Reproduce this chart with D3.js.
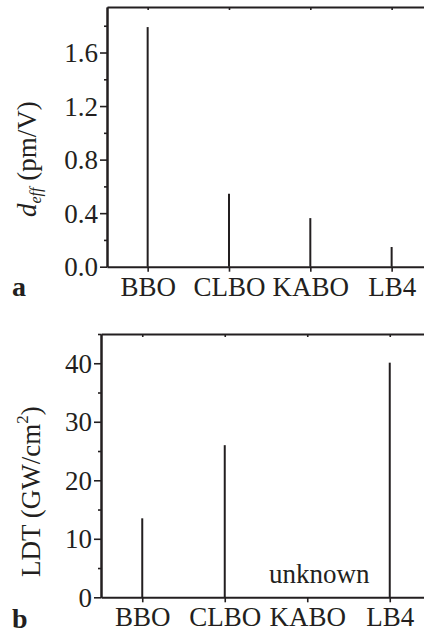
<!DOCTYPE html>
<html>
<head>
<meta charset="utf-8">
<script src="https://cdn.jsdelivr.net/npm/d3@7"></script>
<style>
  body { margin: 0; background: #fff; }
  svg { display: block; }
  text { font-family: "Liberation Serif", "Times New Roman", serif; fill: #231f20; }
</style>
</head>
<body>
<div id="chart"></div>
<script>
// crystals shown in both panels
const crystals = ['BBO', 'CLBO', 'KABO', 'LB4']

// panel a: effective nonlinear coefficient, pm/V
const deffValues = [1.79, 0.545, 0.363, 0.147]
const deffTicks = [0.0, 0.4, 0.8, 1.2, 1.6]
const deffMinor = [0.2, 0.6, 1.0, 1.4, 1.8]

// panel b: laser damage threshold, GW/cm2 (KABO unknown)
const ldtValues = [13.5, 26.0, null, 40.1]
const ldtTicks = [0, 10, 20, 30, 40]
const ldtMinor = [5, 15, 25, 35, 45]

const W = 424, H = 636
const ink = '#231f20'
const fontSize = '27px'

const svg = d3.select('#chart').append('svg')
  .attr('width', W)
  .attr('height', H)

/**
 * Draw one stick panel
 */
function drawPanel(opts) {
  const { left, right, top, bottom, domain, values, ticks, minor, fmt } = opts

  const x = d3.scalePoint().domain(crystals).range([left, right]).padding(0.5)
  const y = d3.scaleLinear().domain(domain).range([bottom, top])

  const g = svg.append('g')

  // sticks
  g.selectAll('.stick')
    .data(crystals.map((c, i) => ({ c, v: values[i] })).filter(d => d.v != null))
    .join('line')
    .attr('class', 'stick')
    .attr('x1', d => x(d.c))
    .attr('x2', d => x(d.c))
    .attr('y1', y(0))
    .attr('y2', d => y(d.v))
    .attr('stroke', ink)
    .attr('stroke-width', 2)

  // left axis, major + minor ticks
  const yAxis = g.append('g')
    .attr('transform', `translate(${left},0)`)
    .call(d3.axisLeft(y).tickValues(ticks).tickFormat(fmt)
      .tickSize(7).tickSizeOuter(0).tickPadding(2))
  yAxis.selectAll('text').style('font-size', fontSize).attr('dy', '0.34em')

  g.append('g')
    .attr('transform', `translate(${left},0)`)
    .call(d3.axisLeft(y).tickValues(minor).tickFormat('').tickSize(3).tickSizeOuter(0))

  // bottom axis, outward ticks
  const xAxis = g.append('g')
    .attr('transform', `translate(0,${bottom})`)
    .call(d3.axisBottom(x).tickSize(5).tickSizeOuter(0).tickPadding(5))
  xAxis.selectAll('text').style('font-size', fontSize).attr('dy', '0.71em')

  // top axis, inward ticks, no labels
  g.append('g')
    .attr('transform', `translate(0,${top})`)
    .call(d3.axisBottom(x).tickSize(3).tickSizeOuter(0).tickFormat(''))

  g.selectAll('.domain').attr('stroke', ink).attr('stroke-width', 2)
  g.selectAll('.tick line').attr('stroke', ink).attr('stroke-width', 1.6)

  return { x, y, g }
}

// panel a
const pa = drawPanel({
  left: 107, right: 432.3, top: 7, bottom: 266.7,
  domain: [0, 1.94],
  values: deffValues, ticks: deffTicks, minor: deffMinor,
  fmt: d3.format('.1f'),
})

const ta = svg.append('text')
  .attr('transform', 'translate(36,217) rotate(-90)')
  .style('font-size', fontSize)
ta.append('tspan').style('font-style', 'italic').text('d')
ta.append('tspan').style('font-style', 'italic').style('font-size', '16px')
  .attr('dy', 5).text('eff')
ta.append('tspan').attr('dy', -5).text(' (pm/V)')

svg.append('text')
  .attr('x', 12).attr('y', 296)
  .style('font-size', '28px').style('font-weight', 'bold')
  .text('a')

// panel b
const pb = drawPanel({
  left: 101, right: 431, top: 334, bottom: 597.3,
  domain: [0, 45],
  values: ldtValues, ticks: ldtTicks, minor: ldtMinor,
  fmt: d3.format('d'),
})

pb.g.append('text')
  .attr('x', pb.x('KABO') + 12)
  .attr('y', 583)
  .attr('text-anchor', 'middle')
  .style('font-size', fontSize)
  .text('unknown')

const tb = svg.append('text')
  .attr('transform', 'translate(40,577) rotate(-90)')
  .style('font-size', fontSize)
tb.append('tspan').text('LDT (GW/cm')
tb.append('tspan').style('font-size', '17px').attr('dy', -12).text('2')
tb.append('tspan').attr('dy', 12).text(')')

svg.append('text')
  .attr('x', 12).attr('y', 628)
  .style('font-size', '28px').style('font-weight', 'bold')
  .text('b')
</script>
</body>
</html>
